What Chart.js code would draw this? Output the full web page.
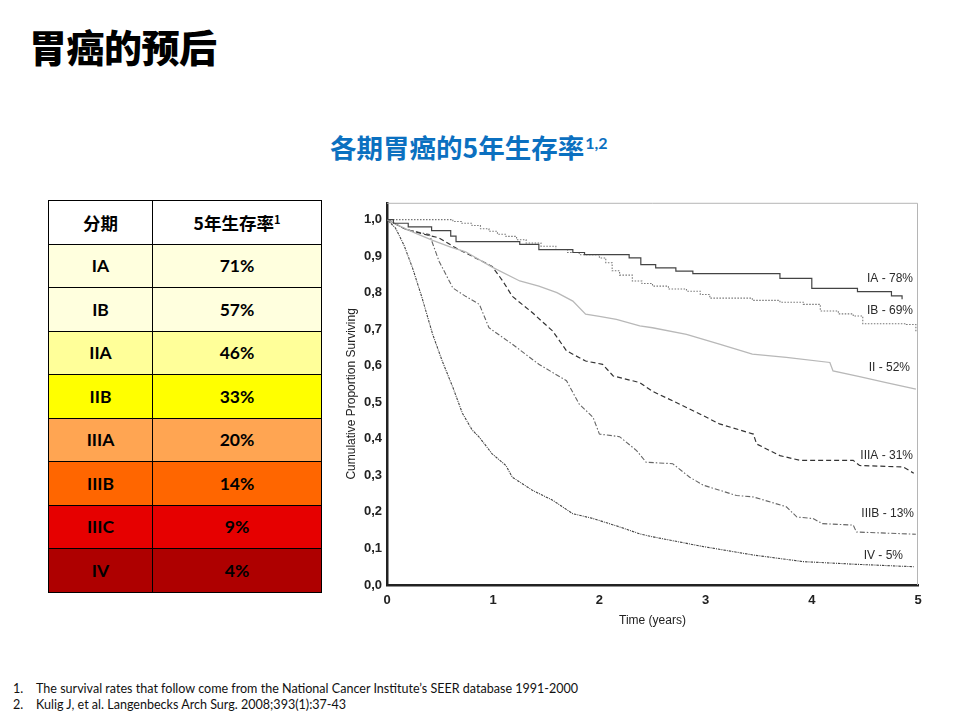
<!DOCTYPE html>
<html>
<head>
<meta charset="utf-8">
<script src="https://cdn.jsdelivr.net/npm/chart.js@4"></script>
<style>
  html, body { margin: 0; padding: 0; background: #fff; }
  body { width: 960px; height: 720px; position: relative; overflow: hidden; font-family: "Noto Sans CJK SC", "Noto Sans", sans-serif; }
  #title { position: absolute; left: 29px; top: 18px; font-size: 38px; font-weight: 900; color: #000; letter-spacing: -0.5px; }
  #subtitle { position: absolute; left: 330px; top: 127px; font-size: 26.5px; font-weight: 700; color: #0B70C0; letter-spacing: 0; }
  #subtitle sup { font-size: 16px; font-family: Lato, "Noto Sans", sans-serif; vertical-align: 9px; margin-left: 1px; }
  #stageTable { position: absolute; left: 48px; top: 200px; width: 274px; border-collapse: collapse; border: 1.5px solid #000; }
  #stageTable td, #stageTable th { border: 1px solid #000; height: 42.5px; padding: 0; text-align: center; font-family: Lato, "Noto Sans CJK SC", sans-serif; font-weight: 700; font-size: 17.5px; color: #000; }
  #stageTable th { font-family: "Noto Sans CJK SC", sans-serif; font-size: 17.5px; background: #fff; }
  #stageTable th sup { font-size: 11px; vertical-align: 6px; }
  #stageTable td.stage { width: 103px; }
  #chartBox { position: absolute; left: 335px; top: 190px; width: 600px; height: 445px; }
  #notes { position: absolute; left: 13px; top: 681px; font-family: Lato, "Liberation Sans", sans-serif; font-size: 12.55px; color: #111; line-height: 16px; }
  #notes span { display: inline-block; width: 23px; }
</style>
</head>
<body>
<div id="title">胃癌的预后</div>
<div id="subtitle">各期胃癌的5年生存率<sup>1,2</sup></div>
<table id="stageTable"></table>
<div id="chartBox"><canvas id="kmChart"></canvas></div>
<div id="notes">
  <div><span>1.</span>The survival rates that follow come from the National Cancer Institute’s SEER database 1991-2000</div>
  <div><span>2.</span>Kulig J, et al. Langenbecks Arch Surg. 2008;393(1):37-43</div>
</div>
<script>
// table: stage and 5-year survival (SEER)
const stages = ['IA', 'IB', 'IIA', 'IIB', 'IIIA', 'IIIB', 'IIIC', 'IV'];
const rates = ['71%', '57%', '46%', '33%', '20%', '14%', '9%', '4%'];
const rowColors = ['#FFFFDE', '#FFFFDE', '#FFFF99', '#FFFF00', '#FFA552', '#FF6600', '#E60000', '#AE0000'];

// Kaplan-Meier curves (Kulig 2008)
const iaTime = [0, 0.06, 0.2, 0.42, 0.6, 0.65, 1.25, 1.43, 1.75, 1.86, 2.28, 2.39, 2.53, 2.72, 2.88, 3.70, 4.00, 4.43, 4.75, 4.85];
const iaSurv = [1.0, 0.99, 0.98, 0.97, 0.955, 0.94, 0.932, 0.918, 0.91, 0.904, 0.895, 0.877, 0.868, 0.859, 0.852, 0.839, 0.812, 0.803, 0.791, 0.782];

const ibTime = [0, 0.62, 0.70, 0.80, 0.88, 0.96, 1.04, 1.12, 1.22, 1.31, 1.45, 1.59, 1.70, 1.81, 2.0, 2.06, 2.12, 2.19, 2.31, 2.40, 2.50, 2.65, 2.82, 2.95, 3.04, 3.44, 3.70, 3.92, 4.08, 4.25, 4.39, 4.48, 4.89, 4.98];
const ibSurv = [1.0, 0.995, 0.99, 0.984, 0.975, 0.968, 0.96, 0.954, 0.945, 0.936, 0.927, 0.918, 0.91, 0.904, 0.895, 0.882, 0.86, 0.848, 0.832, 0.825, 0.818, 0.81, 0.804, 0.795, 0.785, 0.779, 0.774, 0.768, 0.75, 0.742, 0.736, 0.715, 0.713, 0.691];

const iiTime = [0, 0.08, 0.25, 0.43, 0.6, 0.74, 0.99, 1.25, 1.43, 1.6, 1.75, 1.87, 2.0, 2.16, 2.38, 2.5, 2.82, 3.13, 3.44, 3.76, 4.17, 4.2, 4.45, 4.70, 4.98];
const iiSurv = [1.0, 0.988, 0.965, 0.943, 0.925, 0.912, 0.87, 0.832, 0.818, 0.80, 0.777, 0.741, 0.735, 0.727, 0.709, 0.704, 0.686, 0.659, 0.632, 0.623, 0.609, 0.586, 0.57, 0.554, 0.536];

const iiiaTime = [0, 0.18, 0.35, 0.49, 0.65, 0.8, 0.99, 1.09, 1.18, 1.37, 1.56, 1.69, 1.87, 2.03, 2.13, 2.38, 2.5, 2.69, 2.98, 3.13, 3.45, 3.48, 3.70, 3.89, 4.39, 4.45, 4.86, 4.96];
const iiiaSurv = [1.0, 0.973, 0.96, 0.95, 0.922, 0.9, 0.872, 0.832, 0.79, 0.745, 0.695, 0.641, 0.613, 0.604, 0.572, 0.554, 0.53, 0.504, 0.463, 0.441, 0.413, 0.386, 0.354, 0.341, 0.341, 0.327, 0.323, 0.306];

const iiibTime = [0, 0.18, 0.40, 0.49, 0.62, 0.74, 0.87, 0.96, 1.18, 1.43, 1.69, 1.81, 1.94, 2.0, 2.19, 2.35, 2.44, 2.69, 2.85, 2.98, 3.29, 3.45, 3.76, 3.86, 4.01, 4.1, 4.39, 4.42, 4.98];
const iiibSurv = [1.0, 0.973, 0.959, 0.886, 0.813, 0.79, 0.768, 0.704, 0.659, 0.604, 0.559, 0.495, 0.459, 0.413, 0.406, 0.368, 0.336, 0.332, 0.295, 0.273, 0.245, 0.241, 0.214, 0.186, 0.182, 0.168, 0.164, 0.145, 0.139];

const ivTime = [0, 0.08, 0.16, 0.24, 0.33, 0.43, 0.52, 0.62, 0.71, 0.80, 0.87, 0.99, 1.12, 1.18, 1.37, 1.56, 1.75, 1.94, 2.19, 2.38, 2.50, 2.98, 3.45, 3.92, 4.39, 4.96];
const ivSurv = [1.0, 0.977, 0.93, 0.868, 0.786, 0.686, 0.613, 0.541, 0.47, 0.425, 0.404, 0.359, 0.327, 0.295, 0.259, 0.232, 0.195, 0.182, 0.159, 0.14, 0.132, 0.105, 0.082, 0.064, 0.057, 0.05];

// curve labels on the right and the survival level they sit at
const curveLabels = ['IA - 78%', 'IB - 69%', 'II - 52%', 'IIIA - 31%', 'IIIB - 13%', 'IV - 5%'];
const labelLevels = [0.839, 0.752, 0.594, 0.354, 0.196, 0.081];

// build the table
const table = document.getElementById('stageTable');
let html = '<tr><th>分期</th><th>5年生存率<sup>1</sup></th></tr>';
stages.forEach(function (s, i) {
  html += '<tr style="background:' + rowColors[i] + '"><td class="stage">' + s + '</td><td>' + rates[i] + '</td></tr>';
});
table.innerHTML = html;

function pts(ts, ss) {
  return ts.map(function (t, i) { return { x: t, y: ss[i] }; });
}

const axisFont = '"Liberation Sans", Arial, sans-serif';

// frame on top/right + curve labels
const framePlugin = {
  id: 'frameAndLabels',
  afterDraw: function (chart) {
    const ctx = chart.ctx;
    const a = chart.chartArea;
    const y = chart.scales.y;
    ctx.save();
    ctx.strokeStyle = '#b5b5b5';
    ctx.lineWidth = 1;
    ctx.beginPath();
    ctx.moveTo(a.left, a.top + 0.5);
    ctx.lineTo(a.right - 0.5, a.top + 0.5);
    ctx.lineTo(a.right - 0.5, a.bottom);
    ctx.stroke();
    ctx.fillStyle = '#2a2a2a';
    ctx.font = '12px ' + axisFont;
    ctx.textAlign = 'right';
    ctx.textBaseline = 'middle';
    const rightEdge = [913, 913, 910, 913, 914, 903];
    curveLabels.forEach(function (t, i) {
      ctx.fillText(t, a.right - (918 - rightEdge[i]), y.getPixelForValue(labelLevels[i]));
    });
    ctx.restore();
  }
};

new Chart(document.getElementById('kmChart'), {
  type: 'line',
  data: {
    datasets: [
      { label: 'IA', data: pts(iaTime, iaSurv), borderColor: '#444', borderWidth: 1.2, stepped: true },
      { label: 'IB', data: pts(ibTime, ibSurv), borderColor: '#777', borderWidth: 1.1, borderDash: [1.5, 1.5], stepped: true },
      { label: 'II', data: pts(iiTime, iiSurv), borderColor: '#b8b8b8', borderWidth: 1.3 },
      { label: 'IIIA', data: pts(iiiaTime, iiiaSurv), borderColor: '#333', borderWidth: 1.2, borderDash: [5, 3] },
      { label: 'IIIB', data: pts(iiibTime, iiibSurv), borderColor: '#666', borderWidth: 1.1, borderDash: [5, 2, 1.5, 2] },
      { label: 'IV', data: pts(ivTime, ivSurv), borderColor: '#444', borderWidth: 1.1, borderDash: [2.5, 1, 1, 1] }
    ]
  },
  options: {
    responsive: true,
    maintainAspectRatio: false,
    animation: false,
    layout: { padding: { top: 7, right: 17, left: 0, bottom: 0 } },
    elements: { point: { radius: 0 }, line: { tension: 0, fill: false } },
    plugins: { legend: { display: false }, tooltip: { enabled: false } },
    scales: {
      x: {
        type: 'linear',
        min: 0,
        max: 5,
        afterFit: function (scale) { scale.height = 50; },
        ticks: { stepSize: 1, color: '#222', padding: 8, font: { family: axisFont, size: 13, weight: 'bold' } },
        grid: { display: false, drawTicks: false },
        border: { color: '#222', width: 2.5 },
        title: { display: true, text: 'Time (years)', color: '#222', padding: { top: 4, bottom: 7 }, font: { family: axisFont, size: 12 } }
      },
      y: {
        min: 0,
        max: 1.046,
        afterFit: function (scale) { scale.width = 52; },
        ticks: {
          stepSize: 0.1,
          includeBounds: false,
          color: '#222',
          padding: 5,
          font: { family: axisFont, size: 13, weight: 'bold' },
          callback: function (v) { return v.toFixed(1).replace('.', ','); }
        },
        grid: { display: false, drawTicks: false },
        border: { color: '#222', width: 2.5 },
        title: { display: true, text: 'Cumulative Proportion Surviving', color: '#222', padding: { top: 9, bottom: 0 }, font: { family: axisFont, size: 12 } }
      }
    }
  },
  plugins: [framePlugin]
});
</script>
</body>
</html>
